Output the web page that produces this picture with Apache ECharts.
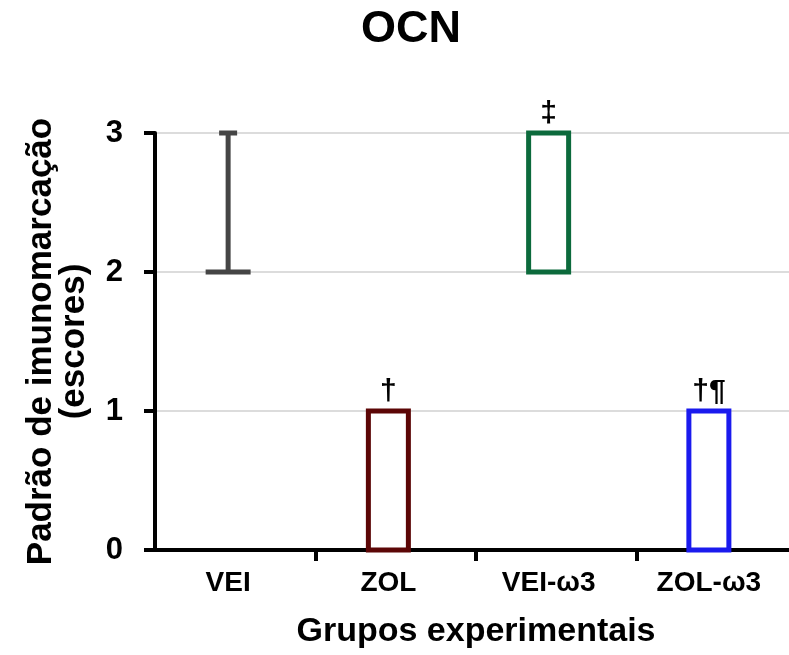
<!DOCTYPE html>
<html>
<head>
<meta charset="utf-8">
<script src="https://cdn.jsdelivr.net/npm/echarts@6/dist/echarts.min.js"></script>
<style>html,body{margin:0;padding:0;background:#fff}#c{width:789px;height:655px}</style>
</head>
<body>
<div id="c"></div>
<script>
const categories = ['VEI', 'ZOL', 'VEI-\u03c93', 'ZOL-\u03c93'];
// [min, q1, median, q3, max] per group
const boxValues = [
  [2, 2, 2, 2, 3],
  [0, 0, 0, 1, 1],
  [2, 2, 3, 3, 3],
  [0, 0, 1, 1, 1]
];
const groupColors = ['#454545', '#5c0606', '#0c6a3c', '#1a1aee'];
const marks = ['', '\u2020', '\u2021', '\u2020\u00b6'];
const yTicks = [0, 1, 2, 3];

const FONT = '"Liberation Sans", Arial, sans-serif';
const chart = echarts.init(document.getElementById('c'));

const data = boxValues.map((v, i) => [i].concat(v));

chart.setOption({
  animation: false,
  backgroundColor: '#fff',
  title: {
    text: 'OCN', left: 361, top: 7, padding: 0,
    textStyle: { fontFamily: FONT, fontWeight: 'bold', fontSize: 45, color: '#000' }
  },
  grid: [
    { left: 155, top: 133, width: 642, bottom: 105, outerBoundsMode: 'none', containLabel: false },
    { left: 148, top: 133, width: 641, bottom: 105, outerBoundsMode: 'none', containLabel: false }
  ],
  xAxis: [
    {
      gridIndex: 0, type: 'category', data: categories, boundaryGap: true,
      name: 'Grupos experimentais', nameLocation: 'middle', nameGap: 65,
      nameTextStyle: { fontFamily: FONT, fontWeight: 'bold', fontSize: 34, color: '#000' },
      axisLine: { show: true, lineStyle: { color: '#000', width: 4 } },
      axisTick: { show: true, length: 11, lineStyle: { color: '#000', width: 4 }, interval: function (i) { return i > 0; } },
      axisLabel: { show: false },
      splitLine: { show: false }, z: 2
    },
    {
      gridIndex: 1, type: 'category', data: categories, boundaryGap: true,
      axisLine: { show: false }, axisTick: { show: false },
      axisLabel: { show: true, margin: 19, fontFamily: FONT, fontWeight: 'bold', fontSize: 28, color: '#000' },
      splitLine: { show: false }
    }
  ],
  yAxis: [
    {
      gridIndex: 0, type: 'value', min: yTicks[0], max: yTicks[yTicks.length - 1], interval: 1,
      name: 'Padr\u00e3o de imunomarca\u00e7\u00e3o\n(escores)', nameLocation: 'middle', nameGap: 64, nameRotate: 90,
      nameTextStyle: { fontFamily: FONT, fontWeight: 'bold', fontSize: 35, lineHeight: 33, color: '#000', align: 'center' },
      axisLine: { show: true, lineStyle: { color: '#000', width: 4 } },
      axisTick: { show: true, length: 11, lineStyle: { color: '#000', width: 4 } },
      axisLabel: { margin: 32, fontFamily: FONT, fontWeight: 'bold', fontSize: 31, color: '#000' },
      splitLine: { show: true, lineStyle: { color: '#dcdcdc', width: 2 } }, z: 2
    },
    {
      gridIndex: 1, type: 'value', min: yTicks[0], max: yTicks[yTicks.length - 1], interval: 1, show: false,
      splitLine: { show: false }
    }
  ],
  series: [{
    type: 'custom', xAxisIndex: 1, yAxisIndex: 1, z: 10, clip: false,
    data: data,
    encode: { x: 0, y: [1, 2, 3, 4, 5] },
    renderItem: function (params, api) {
      const i = api.value(0);
      const cx = api.coord([i, 0])[0];
      const yv = [1, 2, 3, 4, 5].map(k => api.coord([i, api.value(k)])[1]);
      const [yMin, yQ1, yMed, yQ3, yMax] = yv;
      const color = groupColors[i];
      const half = 20;
      const capHalf = 9;
      const lw = 5;
      const children = [];
      const lineStyle = { stroke: color, lineWidth: lw, fill: null };
      if (yMax < yQ3 - 0.5) {
        children.push({ type: 'line', shape: { x1: cx, y1: yQ3, x2: cx, y2: yMax }, style: lineStyle });
        children.push({ type: 'line', shape: { x1: cx - capHalf, y1: yMax, x2: cx + capHalf, y2: yMax }, style: lineStyle });
      }
      if (yMin > yQ1 + 0.5) {
        children.push({ type: 'line', shape: { x1: cx, y1: yQ1, x2: cx, y2: yMin }, style: lineStyle });
        children.push({ type: 'line', shape: { x1: cx - capHalf, y1: yMin, x2: cx + capHalf, y2: yMin }, style: lineStyle });
      }
      if (Math.abs(yQ1 - yQ3) < 0.5) {
        children.push({ type: 'rect', shape: { x: cx - half - lw / 2, y: yQ3 - lw / 2, width: 2 * half + lw, height: lw }, style: { fill: color } });
      } else {
        children.push({ type: 'rect', shape: { x: cx - half, y: yQ3, width: 2 * half, height: yQ1 - yQ3 }, style: { stroke: color, lineWidth: lw, fill: '#fff', lineJoin: 'miter' } });
      }
      if (marks[i]) {
        children.push({
          type: 'text',
          style: { text: marks[i], x: cx, y: Math.min(yMax, yQ3) - 4, align: 'center', verticalAlign: 'bottom',
            font: 'bold 30px ' + FONT, fill: '#000' }
        });
      }
      return { type: 'group', children: children };
    }
  }]
});
</script>
</body>
</html>
